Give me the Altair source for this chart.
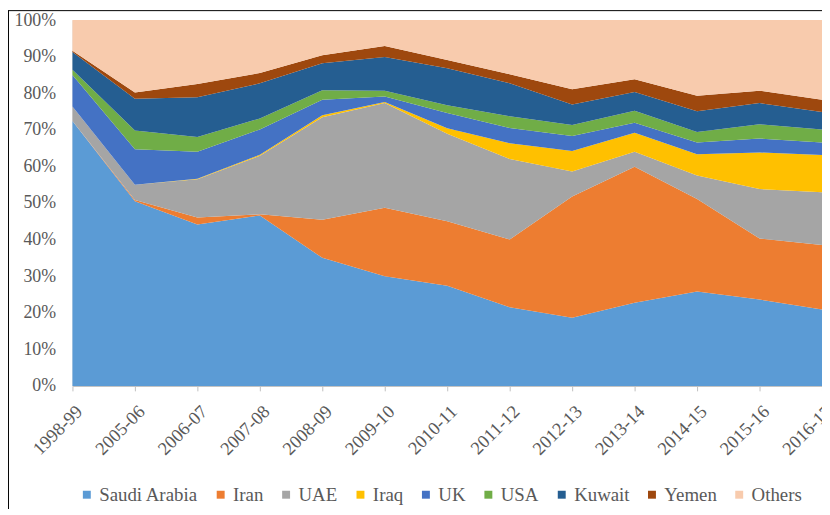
import altair as alt
import pandas as pd

years = ["1998-99", "2005-06", "2006-07", "2007-08", "2008-09", "2009-10", "2010-11",
         "2011-12", "2012-13", "2013-14", "2014-15", "2015-16", "2016-17"]

series = ["Saudi Arabia", "Iran", "UAE", "Iraq", "UK", "USA", "Kuwait", "Yemen", "Others"]

saudi  = [72.4, 50.5, 44.1, 46.6, 35.0, 30.0, 27.4, 21.5, 18.6, 22.7, 25.8, 23.6, 20.9]
iran   = [0.0, 0.3, 1.9, 0.3, 10.4, 18.7, 17.6, 18.5, 33.2, 37.2, 25.3, 16.7, 17.6]
uae    = [4.0, 4.2, 10.5, 16.0, 28.0, 28.6, 23.9, 22.0, 6.8, 4.1, 6.4, 13.5, 14.4]
iraq   = [0.0, 0.0, 0.1, 0.3, 0.6, 0.3, 1.5, 4.3, 5.6, 5.2, 5.8, 10.0, 10.2]
uk     = [8.6, 9.7, 7.4, 6.9, 4.2, 1.5, 4.2, 4.2, 4.1, 2.7, 3.2, 3.8, 3.4]
usa    = [1.4, 5.1, 4.0, 3.0, 2.6, 1.6, 2.1, 3.2, 3.0, 3.3, 2.9, 3.9, 3.6]
kuwait = [4.9, 8.7, 10.9, 9.6, 7.4, 9.2, 10.1, 9.0, 5.6, 5.1, 5.7, 5.8, 4.8]
yemen  = [0.3, 1.7, 3.6, 2.8, 2.2, 3.0, 2.3, 2.5, 4.2, 3.5, 4.2, 3.4, 3.3]
others = [8.4, 19.8, 17.5, 14.5, 9.6, 7.1, 10.9, 14.8, 18.9, 16.2, 20.7, 19.3, 21.8]

colors = ["#5B9BD5", "#ED7D31", "#A5A5A5", "#FFC000", "#4472C4", "#70AD47",
          "#255E91", "#9E480E", "#F8CBAD"]

values = [saudi, iran, uae, iraq, uk, usa, kuwait, yemen, others]
rows = []
for si, (name, vals) in enumerate(zip(series, values)):
    for yi, (yr, v) in enumerate(zip(years, vals)):
        rows.append({"year": yr, "country": name, "share": v, "idx": si})
df = pd.DataFrame(rows)

FONT = "Liberation Serif"

areas = alt.Chart(df).mark_area(opacity=1).encode(
    x=alt.X("year:N", sort=years, scale=alt.Scale(padding=0),
            axis=alt.Axis(title=None, labelAngle=-45, labelFontSize=18.5,
                          labelColor="#595959", domainColor="#BFBFBF", tickColor="#BFBFBF",
                          tickSize=5, labelPadding=11, grid=False)),
    y=alt.Y("share:Q", stack="normalize",
            scale=alt.Scale(domain=[0, 1]),
            axis=alt.Axis(title=None, format=".0%", values=[i / 10 for i in range(11)],
                          labelFontSize=18, labelColor="#595959",
                          ticks=False, labelPadding=17, domainColor="#D9D9D9",
                          grid=True, gridColor="#D9D9D9")),
    color=alt.Color("country:N", sort=series,
                    scale=alt.Scale(domain=series, range=colors),
                    legend=alt.Legend(title=None, orient="none", direction="horizontal",
                                      columns=9, legendX=5, legendY=469,
                                      symbolType="square", symbolSize=64,
                                      symbolStrokeWidth=0,
                                      labelFontSize=19,
                                      labelColor="#595959", columnPadding=13,
                                      labelOffset=3)),
    order=alt.Order("idx:Q", sort="ascending"),
)

frame = alt.Chart(pd.DataFrame({"k": [0]})).mark_rule(color="#000000", strokeWidth=1).encode(
    x=alt.value(-64.5), y=alt.value(-10), y2=alt.value(500)
)
frame_top = alt.Chart(pd.DataFrame({"k": [0]})).mark_rule(color="#000000", strokeWidth=1).encode(
    x=alt.value(-64.5), x2=alt.value(760), y=alt.value(-9.5)
)

chart = alt.layer(areas, frame, frame_top).properties(
    width=756, height=369,
    autosize=alt.AutoSizeParams(type="none"),
    padding={"left": 65, "top": 10, "right": 0, "bottom": 122},
).configure(font=FONT).configure_view(stroke=None)

chart.save("out.html", embed_options={"renderer": "svg", "actions": False})
